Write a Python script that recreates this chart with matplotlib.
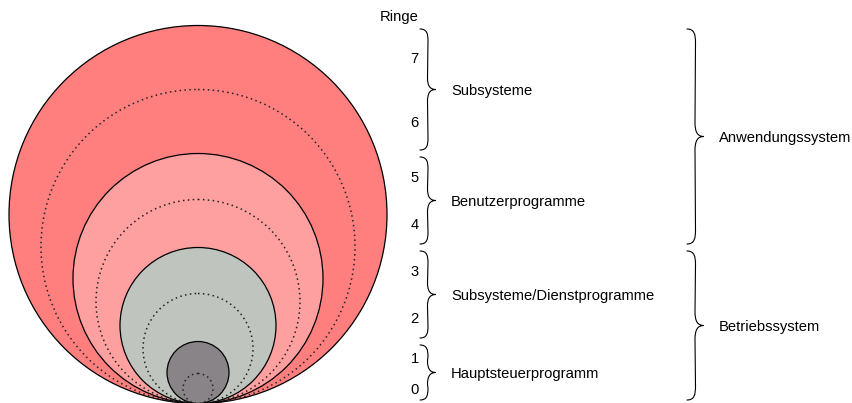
import matplotlib.pyplot as plt
from matplotlib.patches import Circle, PathPatch
from matplotlib.path import Path

plt.rcParams['font.family'] = ['Liberation Sans', 'DejaVu Sans']

# outer radius of each ring 0..7 (pixels)
ring_radii = [15, 31, 55, 78, 102, 125, 157, 189]
ring_labels = ['0', '1', '2', '3', '4', '5', '6', '7']
# fill colours for the ring pairs (0-1, 2-3, 4-5, 6-7)
pair_colors = ['#898488', '#c0c4be', '#ffa0a0', '#ff7f7f']
pair_names = ['Hauptsteuerprogramm', 'Subsysteme/Dienstprogramme',
              'Benutzerprogramme', 'Subsysteme']
# groups of pairs: (first pair, last pair, name)
groups = [(0, 1, 'Betriebssystem'), (2, 3, 'Anwendungssystem')]

W, H = 853, 403
cx, base = 198, 403.5

fig = plt.figure(figsize=(W / 100, H / 100), dpi=100)
ax = fig.add_axes([0, 0, 1, 1])
ax.set_xlim(0, W)
ax.set_ylim(H, 0)
ax.axis('off')


def top(i):
    # y of the top of ring i (i = -1 is the bottom point)
    if i < 0:
        return base
    return base - 2 * ring_radii[i]


def brace(x, y0, y1, w=16, q=12, lw=0.8):
    ym = (y0 + y1) / 2
    xm = x + w / 2
    verts = [(x, y0), (xm - 1, y0), (xm, y0 + q * 0.4), (xm, y0 + q),
             (xm - 0.5, ym - q),
             (xm - 0.5, ym - q * 0.3), (xm + 2, ym), (x + w, ym),
             (xm + 2, ym), (xm - 0.5, ym + q * 0.3), (xm - 0.5, ym + q),
             (xm, y1 - q),
             (xm, y1 - q * 0.4), (xm - 1, y1), (x, y1)]
    codes = [Path.MOVETO, Path.CURVE4, Path.CURVE4, Path.CURVE4,
             Path.LINETO, Path.CURVE4, Path.CURVE4, Path.CURVE4,
             Path.CURVE4, Path.CURVE4, Path.CURVE4,
             Path.LINETO, Path.CURVE4, Path.CURVE4, Path.CURVE4]
    ax.add_patch(PathPatch(Path(verts, codes), fill=False, lw=lw,
                           color='black', capstyle='round'))
    return ym


# circles, biggest first
for i in range(len(ring_radii) - 1, -1, -1):
    r = ring_radii[i]
    if i % 2 == 1:
        ax.add_patch(Circle((cx, base - r), r, facecolor=pair_colors[i // 2],
                            edgecolor='black', lw=0.9))
    else:
        ax.add_patch(Circle((cx, base - r), r, fill=False, edgecolor='#222222',
                            lw=1.1, linestyle=(0, (1, 2.2))))

fs = 10.6
dy = 1.5
ax.text(419, 15 + dy, 'Ringe', ha='right', va='center', fontsize=fs)
for i, lab in enumerate(ring_labels):
    y = (top(i) + top(i - 1)) / 2
    ax.text(419, y + dy, lab, ha='right', va='center', fontsize=fs)

gap = 3.5
for k, name in enumerate(pair_names):
    y0 = top(2 * k + 1) + gap
    y1 = top(2 * k - 1) - gap
    ym = brace(420, y0, min(y1, 401))
    ax.text(451, ym + dy, name, ha='left', va='center', fontsize=fs)

for p0, p1, name in groups:
    y0 = top(2 * p1 + 1) + gap
    y1 = top(2 * p0 - 1) - gap
    ym = brace(687, y0, min(y1, 401), w=17, q=14)
    ax.text(719, ym + dy, name, ha='left', va='center', fontsize=fs)

fig.savefig('out.png', dpi=100)
